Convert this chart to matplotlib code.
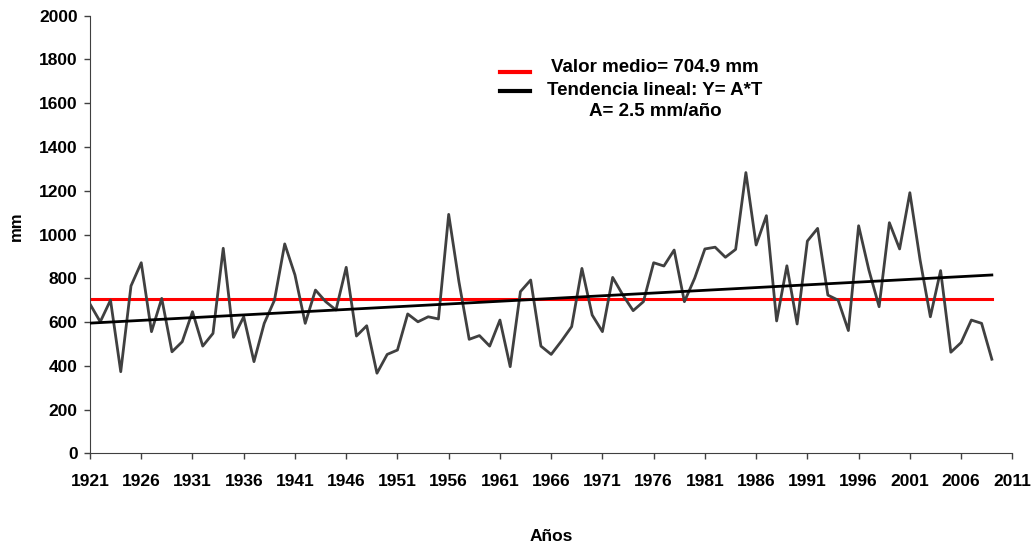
import matplotlib
matplotlib.use("Agg")
import matplotlib.pyplot as plt
import numpy as np

# annual precipitation (mm), 1921-2009
years = list(range(1921, 2010))
precip = [682, 601, 700, 373, 765, 871, 556, 708, 464, 510,
          647, 490, 548, 937, 530, 624, 419, 594, 700, 957,
          815, 594, 746, 693, 655, 850, 536, 583, 366, 452,
          472, 637, 601, 624, 614, 1092, 784, 521, 538, 490,
          609, 396, 739, 792, 490, 452, 513, 579, 845, 632,
          556, 804, 723, 652, 693, 871, 856, 929, 693, 800,
          934, 942, 896, 932, 1283, 952, 1086, 605, 857, 591,
          970, 1028, 723, 700, 561, 1040, 838, 670, 1054, 934,
          1191, 883, 624, 835, 462, 506, 609, 594, 430]

mean_value = 704.9
trend_start = 595   # value of the trend line in 1921
trend_slope = 2.5   # mm/year

xticks = list(range(1921, 2012, 5))
yticks = list(range(0, 2001, 200))

plt.rcParams['font.family'] = ['Liberation Sans', 'DejaVu Sans']
plt.rcParams['font.weight'] = 'bold'

fig = plt.figure(figsize=(10.31, 5.49), dpi=100)
ax = fig.add_axes([0.0873, 0.1743, 0.8946, 0.7971])

yrs = np.array(years)
trend = trend_start + trend_slope * (yrs - yrs[0])

ax.plot(yrs, [mean_value] * len(yrs), color='#ff0000', lw=2.2, zorder=2)
ax.plot(yrs, precip, color='#404040', lw=2.0, zorder=3)
ax.plot(yrs, trend, color='black', lw=2.0, zorder=4)

ax.set_xlim(1921, 2011)
ax.set_ylim(0, 2000)
ax.set_xticks(xticks)
ax.set_yticks(yticks)
ax.tick_params(direction='out', length=4, width=1, colors='#404040',
               labelcolor='black', labelsize=12.5)
ax.tick_params(axis='x', pad=11)
ax.tick_params(axis='y', pad=5)
for lab in ax.get_xticklabels() + ax.get_yticklabels():
    lab.set_fontweight('bold')
ax.spines['top'].set_visible(False)
ax.spines['right'].set_visible(False)
ax.spines['left'].set_color('#404040')
ax.spines['bottom'].set_color('#404040')

ax.set_xlabel('Años', fontweight='bold', fontsize=12.5)
ax.xaxis.set_label_coords(0.5, -0.172)
ax.set_ylabel('mm', fontweight='bold', fontsize=12)
ax.yaxis.set_label_coords(-0.072, 0.52)

# legend drawn by hand
ax.plot([0.4445, 0.477], [0.871, 0.871], transform=ax.transAxes,
        color='#ff0000', lw=3, clip_on=False)
ax.plot([0.4445, 0.477], [0.829, 0.829], transform=ax.transAxes,
        color='black', lw=3, clip_on=False)
tx = 0.6126
ax.text(tx, 0.881, 'Valor medio= 704.9 mm', transform=ax.transAxes,
        ha='center', va='center', fontweight='bold', fontsize=13.5)
ax.text(tx, 0.830, 'Tendencia lineal: Y= A*T', transform=ax.transAxes,
        ha='center', va='center', fontweight='bold', fontsize=13.5)
ax.text(tx, 0.780, 'A= 2.5 mm/año', transform=ax.transAxes,
        ha='center', va='center', fontweight='bold', fontsize=13.5)

fig.savefig('out.png', dpi=100)
